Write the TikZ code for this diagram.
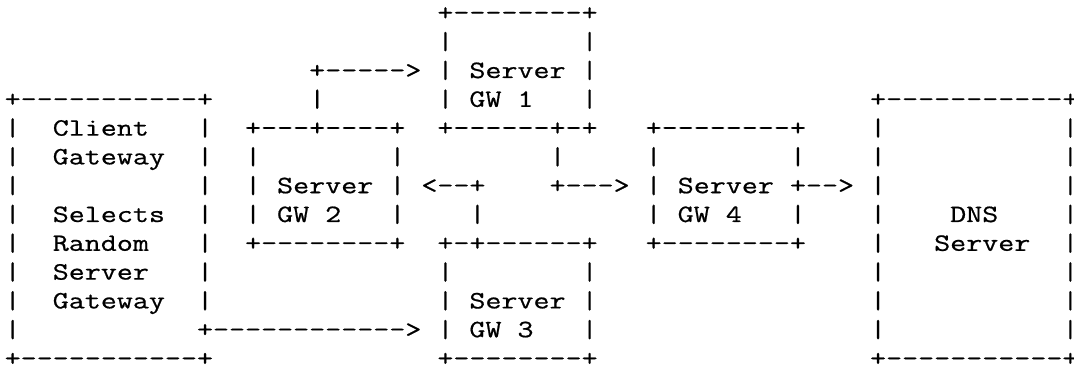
\documentclass[tikz,border=0pt]{standalone}
\usepackage{fontspec}
% typewriter face widened to a 16pt column pitch at 24.9pt
\setmonofont[FakeStretch=1.2497,FakeBold=0.7]{Latin Modern Mono}
% n fixed-width blanks that TeX will not collapse
\ExplSyntaxOn
\cs_new:Npn \blanks #1 { \prg_replicate:nn {#1} { \nobreakspace } }
\ExplSyntaxOff
\begin{document}
\begin{tikzpicture}[x=1pt,y=1pt,
  asciirow/.style={anchor=base west, inner sep=0pt, outer sep=0pt,
    font=\ttfamily\fontsize{24.9pt}{28.8pt}\selectfont}]
\useasboundingbox (0,0) rectangle (1074,369);
% one node per text row, 16pt per column, 28.8pt per row
\node[asciirow] (row0)  at (4.7,348.6) {\blanks{27}+--------+};
\node[asciirow] (row1)  at (4.7,319.8) {\blanks{27}|\blanks{8}|};
\node[asciirow] (row2)  at (4.7,291.0) {\blanks{19}+----->~|~Server~|};
\node[asciirow] (row3)  at (4.7,262.2) {+-----------+\blanks{6}|\blanks{7}|~GW~1\blanks{3}|\blanks{17}+-----------+};
\node[asciirow] (row4)  at (4.7,233.4) {|\blanks{2}Client\blanks{3}|\blanks{2}+---+----+\blanks{2}+------+-+\blanks{3}+--------+\blanks{4}|\blanks{11}|};
\node[asciirow] (row5)  at (4.7,204.6) {|\blanks{2}Gateway\blanks{2}|\blanks{2}|\blanks{8}|\blanks{9}|\blanks{5}|\blanks{8}|\blanks{4}|\blanks{11}|};
\node[asciirow] (row6)  at (4.7,175.8) {|\blanks{11}|\blanks{2}|~Server~|~<--+\blanks{4}+--->~|~Server~+-->~|\blanks{11}|};
\node[asciirow] (row7)  at (4.7,147.0) {|\blanks{2}Selects\blanks{2}|\blanks{2}|~GW~2\blanks{3}|\blanks{4}|\blanks{10}|~GW~4\blanks{3}|\blanks{4}|\blanks{4}DNS\blanks{4}|};
\node[asciirow] (row8)  at (4.7,118.2) {|\blanks{2}Random\blanks{3}|\blanks{2}+--------+\blanks{2}+-+------+\blanks{3}+--------+\blanks{4}|\blanks{3}Server\blanks{2}|};
\node[asciirow] (row9)  at (4.7,89.4)  {|\blanks{2}Server\blanks{3}|\blanks{14}|\blanks{8}|\blanks{17}|\blanks{11}|};
\node[asciirow] (row10) at (4.7,60.6)  {|\blanks{2}Gateway\blanks{2}|\blanks{14}|~Server~|\blanks{17}|\blanks{11}|};
\node[asciirow] (row11) at (4.7,31.8)  {|\blanks{11}+------------>~|~GW~3\blanks{3}|\blanks{17}|\blanks{11}|};
\node[asciirow] (row12) at (4.7,3.0)   {+-----------+\blanks{14}+--------+\blanks{17}+-----------+};
\end{tikzpicture}
\end{document}
